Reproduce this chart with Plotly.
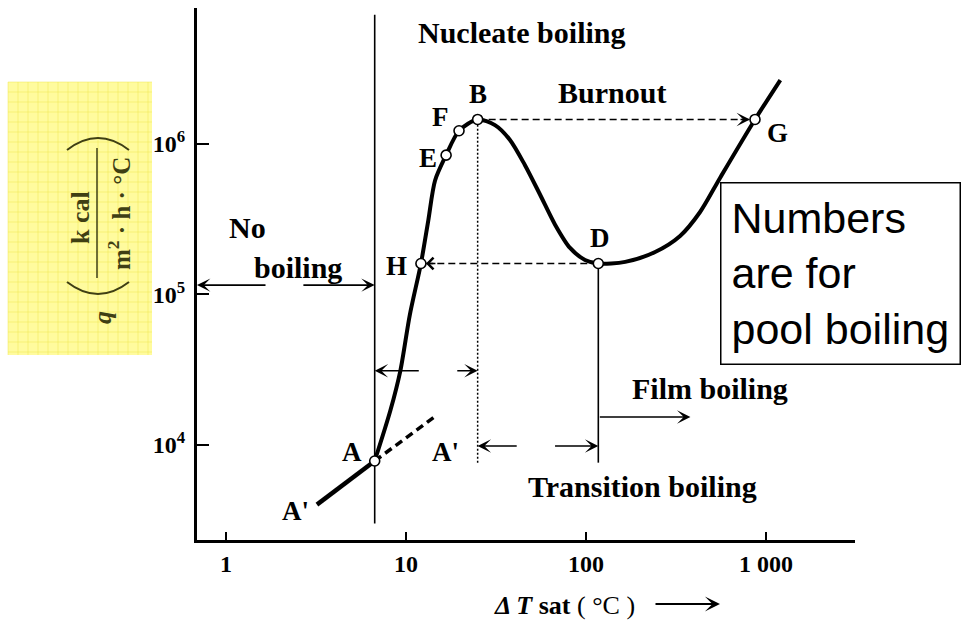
import numpy as np
import plotly.graph_objects as go

# Pool boiling curve of water: wall superheat dT_sat (degC) vs heat flux q (kcal/m2 h)
dt_curve = [6.7, 8.2, 9.3, 10.5, 12.1, 13.3, 14.5, 16.7, 19.7, 25.0,
            31.2, 37.8, 45.8, 55.5, 67.3, 81.5, 98.7, 117.0,
            165.0, 242.0, 333.0, 430.0, 555.0, 868.0, 1200.0]
q_curve = [7.8e3, 1.7e4, 3.1e4, 7.3e4, 1.6e5, 3.1e5, 5.7e5, 8.4e5, 1.22e6, 1.45e6,
           1.33e6, 1.06e6, 7.2e5, 4.6e5, 2.9e5, 2.03e5, 1.69e5, 1.6e5,
           1.64e5, 1.91e5, 2.44e5, 3.52e5, 5.93e5, 1.45e6, 2.65e6]

# free convection line A'-A and its dashed extension A-A'
dt_free = [3.2, 6.7]
q_free = [4.0e3, 7.8e3]
dt_free_ext = [6.7, 14.9]
q_free_ext = [7.8e3, 1.58e4]

# characteristic points
point_names = ["A", "H", "E", "F", "B", "D", "G"]
point_dt = [6.7, 12.1, 16.7, 19.7, 25.0, 117.0, 868.0]
point_q = [7.8e3, 1.6e5, 8.4e5, 1.22e6, 1.45e6, 1.6e5, 1.45e6]

# regime boundaries (degC)
dt_onset, dt_burnout, dt_leidenfrost = 6.7, 25.0, 117.0

x_tickvals = [1, 10, 100, 1000]
x_ticktext = ["1", "10", "100", "1 000"]
y_tickvals = [1e4, 1e5, 1e6]
y_ticktext = ["10<sup>4</sup>", "10<sup>5</sup>", "10<sup>6</sup>"]

SERIF = "Liberation Serif, Times New Roman, serif"
SANS = "Liberation Sans, Arial, sans-serif"

# plot area in pixels
L, R, T, B = 197, 114, 8, 84
W, H = 969, 624
PW, PH = W - L - R, H - T - B


def paper_x(px):
    return (px - L) / PW


def paper_y(py):
    return (H - B - py) / PH


fig = go.Figure()


def line(x, y, width, dash="solid"):
    fig.add_trace(go.Scatter(x=x, y=y, mode="lines", hoverinfo="skip",
                             line=dict(color="black", width=width, dash=dash)))


def arrow(x_tip, y_tip, x_tail, y_tail, head=3):
    fig.add_annotation(x=np.log10(x_tip), y=np.log10(y_tip),
                       ax=np.log10(x_tail), ay=np.log10(y_tail),
                       xref="x", yref="y", axref="x", ayref="y", text="",
                       showarrow=True, arrowhead=head, arrowsize=1.4,
                       arrowwidth=1.6, arrowcolor="black")


def head_only(x_tip, y_tip, dx, head=3):
    fig.add_annotation(x=np.log10(x_tip), y=np.log10(y_tip), ax=dx, ay=0,
                       xref="x", yref="y", text="", showarrow=True,
                       arrowhead=head, arrowsize=1.4, arrowwidth=1.6,
                       arrowcolor="black", standoff=5)


def paper_text(text, px, py, font, angle=0):
    fig.add_annotation(xref="paper", yref="paper", x=paper_x(px), y=paper_y(py),
                       xanchor="center", yanchor="middle", text=text,
                       textangle=angle, showarrow=False, font=font)


iA, iH, iE, iF, iB, iD, iG = range(7)

# regime boundary lines
line([dt_onset, dt_onset], [3.0e3, 7.2e6], 1.6)
line([dt_burnout, dt_burnout], [7.6e3, point_q[iB]], 1.5, "2px,2px")
line([dt_leidenfrost, dt_leidenfrost], [7.6e3, point_q[iD]], 1.6)

# jumps: burnout B->G and return D->H
line([dt_burnout, point_dt[iG]], [point_q[iB], point_q[iG]], 1.6, "7px,4px")
line([dt_leidenfrost, point_dt[iH]], [point_q[iD], point_q[iH]], 1.6, "7px,4px")

# free convection
line(dt_free, q_free, 4.5)
line(dt_free_ext, q_free_ext, 3.5, "8px,5px")

# boiling curve
fig.add_trace(go.Scatter(x=dt_curve, y=q_curve, mode="lines", hoverinfo="skip",
                         line=dict(color="black", width=4, shape="spline", smoothing=0.8)))

# characteristic points
fig.add_trace(go.Scatter(x=point_dt, y=point_q, mode="markers", hoverinfo="skip",
                         marker=dict(symbol="circle", size=10, color="white",
                                     line=dict(color="black", width=1.6))))

# arrowheads on the dashed jumps
head_only(point_dt[iG], point_q[iG], -16, head=3)
head_only(point_dt[iH], point_q[iH], 16, head=4)

# regime extent arrows
q_no, q_nuc, q_tr, q_film = 1.15e5, 3.1e4, 9.8e3, 1.53e4
arrow(0.69, q_no, 1.69, q_no)
arrow(dt_onset, q_no, 2.64, q_no)
arrow(dt_onset, q_nuc, 12.0, q_nuc)
arrow(dt_burnout, q_nuc, 18.9, q_nuc)
arrow(dt_burnout, q_tr, 42.0, q_tr)
arrow(dt_leidenfrost, q_tr, 66.0, q_tr)
arrow(380.0, q_film, dt_leidenfrost, q_film)

label_font = dict(family=SERIF, size=27, color="black", weight="bold")
region_font = dict(family=SERIF, size=30, color="black", weight="bold")

# point labels
label_shift = {"A": (-23, 9), "H": (-24, -2), "E": (-18, -3), "F": (-19, 14),
               "B": (0, 25), "D": (2, 26), "G": (22, -14)}
for name, x, y in zip(point_names, point_dt, point_q):
    sx, sy = label_shift[name]
    fig.add_annotation(x=np.log10(x), y=np.log10(y), text=name, showarrow=False,
                       xshift=sx, yshift=sy, font=label_font)
fig.add_annotation(x=np.log10(dt_free[0]), y=np.log10(q_free[0]), text="A'",
                   showarrow=False, xshift=-21, yshift=-6, font=label_font)
fig.add_annotation(x=np.log10(16.5), y=np.log10(8.96e3), text="A'",
                   showarrow=False, font=label_font)

# regime labels
regions = [("Nucleate boiling", 44, 5.5e6), ("Burnout", 139, 2.18e6),
           ("No", 1.31, 2.76e5), ("boiling", 2.51, 1.5e5),
           ("Film boiling", 489, 2.38e4), ("Transition boiling", 205, 5.3e3)]
for text, x, y in regions:
    fig.add_annotation(x=np.log10(x), y=np.log10(y), text=text, showarrow=False,
                       font=region_font)

# note box
fig.add_annotation(xref="paper", yref="paper", x=paper_x(720), y=paper_y(182),
                   xanchor="left", yanchor="top", align="left", showarrow=False,
                   text="Numbers<br>are for<br>pool boiling",
                   font=dict(family=SANS, size=43, color="black"),
                   bgcolor="white", bordercolor="black", borderwidth=1.5, borderpad=10)

# x-axis title with arrow
paper_text("<b><i>Δ T</i></b> <b>sat</b> ( °C )", 564, 605,
           dict(family=SERIF, size=26, color="black"))
fig.add_annotation(xref="paper", yref="paper", x=paper_x(720), y=paper_y(604),
                   ax=-66, ay=0, text="", showarrow=True, arrowhead=3,
                   arrowsize=1.4, arrowwidth=1.8, arrowcolor="black")

# y-axis title on a yellow grid patch
shapes = [dict(type="rect", xref="paper", yref="paper",
               x0=paper_x(8), x1=paper_x(152), y0=paper_y(355), y1=paper_y(82),
               fillcolor="#fffb9e", line=dict(width=0), layer="below")]
for gx in range(8, 153, 10):
    shapes.append(dict(type="line", xref="paper", yref="paper",
                       x0=paper_x(gx), x1=paper_x(gx), y0=paper_y(355), y1=paper_y(82),
                       line=dict(color="rgba(236,226,70,0.45)", width=1), layer="below"))
for gy in range(82, 356, 10):
    shapes.append(dict(type="line", xref="paper", yref="paper",
                       x0=paper_x(8), x1=paper_x(152), y0=paper_y(gy), y1=paper_y(gy),
                       line=dict(color="rgba(236,226,70,0.45)", width=1), layer="below"))
INK = "#3f3f14"
# fraction bar
shapes.append(dict(type="line", xref="paper", yref="paper",
                   x0=paper_x(97), x1=paper_x(97), y0=paper_y(278), y1=paper_y(148),
                   line=dict(color=INK, width=1.5)))


def paren(py_end, py_ctrl):
    return (f"M {paper_x(67)},{paper_y(py_end)} "
            f"Q {paper_x(98)},{paper_y(py_ctrl)} {paper_x(129)},{paper_y(py_end)}")


shapes.append(dict(type="path", xref="paper", yref="paper", path=paren(150, 126),
                   line=dict(color=INK, width=2)))
shapes.append(dict(type="path", xref="paper", yref="paper", path=paren(282, 306),
                   line=dict(color=INK, width=2)))

paper_text("<i>q</i>", 103, 318, dict(family=SERIF, size=26, color=INK, weight="bold"), -90)
paper_text("k cal", 80, 218, dict(family=SERIF, size=26, color=INK, weight="bold"), -90)
paper_text("m<sup>2</sup> · h · °C", 119, 214,
           dict(family=SERIF, size=25, color=INK, weight="bold"), -90)

axis_font = dict(family=SERIF, size=24, color="black", weight="bold")
fig.update_layout(
    width=W, height=H, margin=dict(l=L, r=R, t=T, b=B),
    paper_bgcolor="white", plot_bgcolor="white", showlegend=False,
    shapes=shapes,
    xaxis=dict(type="log", range=[-0.161, 3.494], showline=True, linecolor="black",
               linewidth=3, ticks="inside", ticklen=8, tickwidth=2, tickcolor="black",
               tickvals=x_tickvals, ticktext=x_ticktext, showgrid=False, zeroline=False,
               tickfont=axis_font, ticklabelstandoff=0),
    yaxis=dict(type="log", range=[3.367, 6.902], showline=True, linecolor="black",
               linewidth=3, ticks="inside", ticklen=12, tickwidth=2, tickcolor="black",
               tickvals=y_tickvals, ticktext=y_ticktext, showgrid=False, zeroline=False,
               tickfont=axis_font, ticklabelstandoff=4),
)

fig.write_html("out.html")
